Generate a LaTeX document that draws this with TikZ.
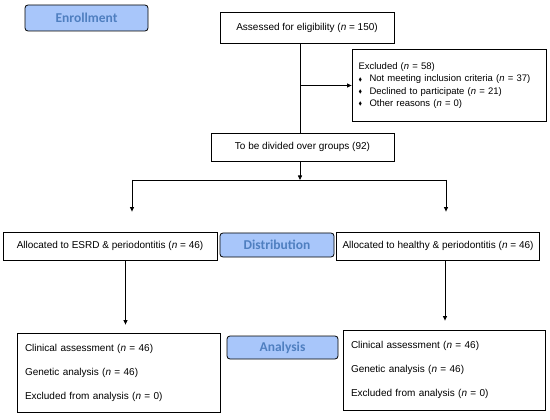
\documentclass[tikz,border=0pt]{standalone}
\usepackage{amssymb}
\usepackage{fontspec}
\setmainfont{Liberation Sans}
\newfontfamily\stagefont{Carlito}
\usepackage{tikz}
\usetikzlibrary{
	positioning,
	arrows.meta
}
\definecolor{stagefill}{RGB}{168,198,250}
\definecolor{stagetext}{RGB}{79,127,192}
\tikzset{
	every edge/.append style={
		-{Triangle[length=4.5pt,width=4pt]}
	},
	flowbox/.style={
		draw,
		line width=.8pt,
		inner sep=6pt,
		font=\fontsize{10}{12}\selectfont
	},
	stage/.style={
		draw,
		line width=.8pt,
		rounded corners=3pt,
		fill=stagefill,
		text=stagetext,
		font=\stagefont\bfseries\fontsize{13.5}{15}\selectfont
	}
}
\newcommand{\nn}{\textit{n}}
\newcommand{\itm}{\makebox[11pt][l]{\raisebox{.5pt}{\scalebox{.55}{$\blacklozenge$}}}}

\begin{document}
\begin{tikzpicture}[x=1pt,y=-1pt]
		\useasboundingbox (0,0) rectangle (550,420);
		\draw
			node[stage,minimum width=123pt,minimum height=26pt]   (enroll)   at (86.5,18)   {Enrollment}
			node[flowbox,minimum width=174pt,minimum height=31pt] (assess)   at (307,27.5)  {Assessed for eligibility (\nn{} = 150)}
			node[flowbox,minimum width=194pt,minimum height=72pt,
				text width=181pt,align=left,inner sep=0pt,
				font=\fontsize{9.5}{12.3}\selectfont]               (excl)     at (449,85.5)  {Excluded (\nn{} = 58)\\
				\itm Not meeting inclusion criteria (\nn{} = 37)\\
				\itm Declined to participate (\nn{} = 21)\\
				\itm Other reasons (\nn{} = 0)}
			node[flowbox,minimum width=183pt,minimum height=28pt] (div)      at (302.5,147) {To be divided over groups (92)}
			node[flowbox,minimum width=214pt,minimum height=28pt] (esrd)     at (110,246)   {Allocated to ESRD \& periodontitis (\nn{} = 46)}
			node[stage,minimum width=114pt,minimum height=24pt]   (distr)    at (277,245)   {Distribution}
			node[flowbox,minimum width=200pt,minimum height=28pt] (healthy)  at (438,246)   {Allocated to healthy \& periodontitis (\nn{} = 46)}
			node[flowbox,minimum width=203pt,minimum height=79pt,
				text width=187pt,align=left,inner sep=0pt]          (clinL)    at (118.5,372.5) {Clinical assessment (\nn{} = 46)\\[12pt]
				Genetic analysis (\nn{} = 46)\\[12pt]
				Excluded from analysis (\nn{} = 0)}
			node[stage,minimum width=111pt,minimum height=23pt]   (analysis) at (282.5,347.5) {Analysis}
			node[flowbox,minimum width=202pt,minimum height=80pt,
				text width=186pt,align=left,inner sep=0pt]          (clinR)    at (444,370)   {Clinical assessment (\nn{} = 46)\\[12pt]
				Genetic analysis (\nn{} = 46)\\[12pt]
				Excluded from analysis (\nn{} = 0)}
		;
		\coordinate (trunk)  at (300,0);
		\coordinate (split)  at (300,180);
		\coordinate (splitL) at (132,180);
		\coordinate (splitR) at (446,180);
		\coordinate (downL)  at (125.5,0);
		\coordinate (downR)  at (445,0);
		\draw[line width=.8pt]
			(assess.south -| trunk) edge[-]                 (div.north -| trunk)
			(excl.west -| trunk)    edge                    (excl.west)
			(div.south -| trunk)    edge                    (split)
			(splitL)                edge[-]                 (splitR)
			(splitL)                edge[shorten >=20pt]    (esrd.north -| splitL)
			(splitR)                edge[shorten >=20pt]    (healthy.north -| splitR)
			(esrd.south -| downL)   edge[shorten >=8pt]     (clinL.north -| downL)
			(healthy.south -| downR) edge[shorten >=9pt]    (clinR.north -| downR)
		;
	\end{tikzpicture}
\end{document}
